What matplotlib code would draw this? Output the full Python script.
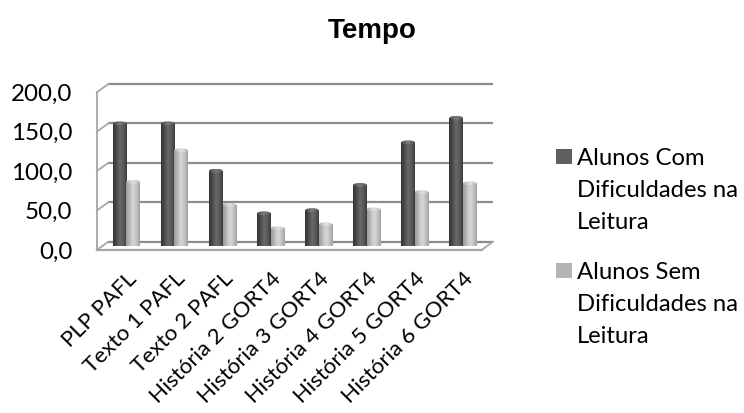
import numpy as np
import matplotlib
matplotlib.use("Agg")
import matplotlib.pyplot as plt
from matplotlib.patches import Rectangle, Ellipse
from matplotlib.colors import LinearSegmentedColormap

# ---------------- data ----------------
categories = ["PLP PAFL", "Texto 1 PAFL", "Texto 2 PAFL", "História 2 GORT4",
              "História 3 GORT4", "História 4 GORT4", "História 5 GORT4", "História 6 GORT4"]
series_names = ["Alunos Com\nDificuldades na\nLeitura",
                "Alunos Sem\nDificuldades na\nLeitura"]
com_dificuldades = [156, 156, 96, 42, 46, 78, 132, 163]
sem_dificuldades = [82, 122, 53, 23, 28, 47, 69, 80]
yticks = [0, 50, 100, 150, 200]
ytick_labels = ["0,0", "50,0", "100,0", "150,0", "200,0"]
title = "Tempo"

# ---------------- layout (pixels) ----------------
W, H = 744, 413
fig = plt.figure(figsize=(W / 100, H / 100), dpi=100)
fig.patch.set_facecolor("white")

FONT = ["Lato", "DejaVu Sans"]


def fbox(x0, ybot, w, h):
    return [x0 / W, 1 - ybot / H, w / W, h / H]


bx0, bw = 108.3, 384.7      # back wall
by0, bh = 241.7, 157.7
ddx, ddy = -11.5, 8.3       # back -> front depth offset (px)

ax_back = fig.add_axes(fbox(bx0, by0, bw, bh))
ax_bar = fig.add_axes(fbox(bx0 - 6.0, by0 + 4.7, bw, bh))
ax_front = fig.add_axes(fbox(bx0 + ddx, by0 + ddy, bw, bh))

n = len(categories)
for ax in (ax_back, ax_bar, ax_front):
    ax.set_xlim(-0.5, n - 0.5)
    ax.set_ylim(yticks[0], yticks[-1])
    ax.patch.set_alpha(0)
    for s in ax.spines.values():
        s.set_visible(False)
    ax.tick_params(length=0)
    ax.set_xticks([])
    ax.set_yticks([])

# ---- walls / gridlines on the back axes ----
dxu = ddx / bw * n
dyu = -ddy / bh * (yticks[-1] - yticks[0])
grid_c = "#8c8c8c"
wall_c = "#a6a6a6"
x_l, x_r = -0.5, n - 0.5
for v in yticks:
    ax_back.plot([x_l, x_r], [v, v], color=grid_c, lw=1.6, clip_on=False,
                 solid_capstyle="butt")
    ax_back.plot([x_l, x_l + dxu], [v, v + dyu], color=wall_c, lw=1.3, clip_on=False)
# front vertical edge of the side wall
ax_back.plot([x_l + dxu, x_l + dxu], [yticks[0] + dyu, yticks[-1] + dyu],
             color=wall_c, lw=1.3, clip_on=False)
# floor front and right edges
ax_back.plot([x_l + dxu, x_r + dxu], [dyu, dyu], color=wall_c, lw=1.6, clip_on=False)
ax_back.plot([x_r, x_r + dxu], [0, dyu], color=wall_c, lw=1.3, clip_on=False)

# ---- cylinder-like bars ----
cm_dark = LinearSegmentedColormap.from_list(
    "d", ["#333333", "#4a4a4a", "#6a6a6a", "#5a5a5a", "#3c3c3c"])
cm_light = LinearSegmentedColormap.from_list(
    "l", ["#9a9a9a", "#b8b8b8", "#d8d8d8", "#c4c4c4", "#a0a0a0"])
cap_dark = LinearSegmentedColormap.from_list("cd", ["#4a4a4a", "#7a7a7a", "#555555"])
cap_light = LinearSegmentedColormap.from_list("cl", ["#b0b0b0", "#e2e2e2", "#bababa"])

grad = np.linspace(0, 1, 128).reshape(1, -1)
x = np.arange(n)
bw_data = 0.28
cap_h = 5.0
for vals, off, cmap, capmap in ((com_dificuldades, -bw_data / 2, cm_dark, cap_dark),
                                (sem_dificuldades, bw_data / 2, cm_light, cap_light)):
    bars = ax_bar.bar(x + off, vals, width=bw_data, color="none", edgecolor="none", zorder=2)
    for b in bars:
        x0 = b.get_x()
        x1 = x0 + b.get_width()
        h = b.get_height()
        im = ax_bar.imshow(grad, cmap=cmap, extent=(x0, x1, 0, h), aspect="auto",
                           zorder=2, interpolation="bilinear")
        im.set_clip_path(b)
        el = Ellipse((x0 + b.get_width() / 2, h), b.get_width(), cap_h,
                     facecolor="none", edgecolor="none", zorder=3)
        ax_bar.add_patch(el)
        im2 = ax_bar.imshow(grad, cmap=capmap, extent=(x0, x1, h - cap_h / 2, h + cap_h / 2),
                            aspect="auto", zorder=3, interpolation="bilinear")
        im2.set_clip_path(el)
ax_bar.set_xlim(-0.5, n - 0.5)
ax_bar.set_ylim(yticks[0], yticks[-1])

# ---- tick labels ----
ax_front.set_yticks(yticks)
ax_front.set_yticklabels(ytick_labels, fontsize=17.4, family=FONT, color="#000000")
ax_front.tick_params(axis="y", length=0, pad=17.5)

ax_bar.set_xticks(x)
ax_bar.set_xticklabels(categories, rotation=45, ha="right", va="top",
                       rotation_mode="anchor", fontsize=16, family=FONT, color="#000000")
ax_bar.tick_params(axis="x", length=0, pad=16)

# ---- title ----
fig.text(0.5, 1 - 38 / H, title, ha="center", va="baseline", fontsize=20,
         fontweight="bold", family=["Liberation Sans", "DejaVu Sans"])

# ---- legend (manual, square aligned to first line) ----
leg_colors = ["#5f5f5f", "#b3b3b3"]
leg_top = [149, 263]
line_step = 32
for name, col, top in zip(series_names, leg_colors, leg_top):
    fig.patches.append(Rectangle((556 / W, 1 - (top + 15) / H), 16 / W, 15 / H,
                                 transform=fig.transFigure, facecolor=col,
                                 edgecolor="none"))
    for i, line in enumerate(name.split("\n")):
        fig.text(577 / W, 1 - (top + 16 + i * line_step) / H, line, ha="left",
                 va="baseline", fontsize=17.2, family=FONT, color="#000000")

fig.savefig("out.png", dpi=100, facecolor="white")
